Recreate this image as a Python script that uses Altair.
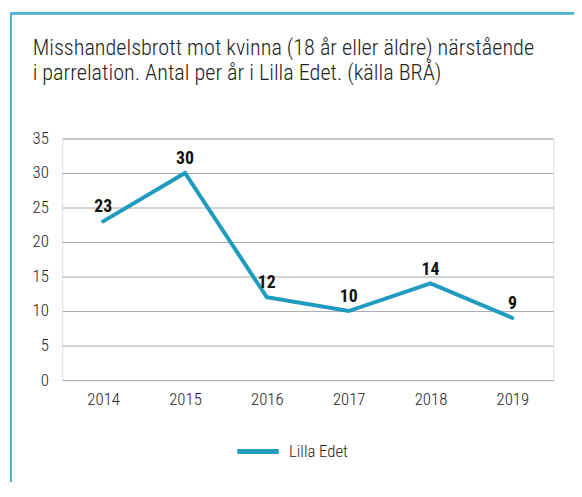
import altair as alt
import pandas as pd

years = ["2014", "2015", "2016", "2017", "2018", "2019"]
values = [23, 30, 12, 10, 14, 9]
series = ["Lilla Edet"] * 6
y_ticks = [0, 5, 10, 15, 20, 25, 30, 35]
title_lines = ["Misshandelsbrott mot kvinna (18 år eller äldre) närstående",
               "i parrelation. Antal per år i Lilla Edet. (källa BRÅ)"]

df = pd.DataFrame({"År": years, "Antal": values, "Serie": series})

FONT = "Roboto Condensed, Liberation Sans Narrow, Roboto, sans-serif"
LINE_COLOR = "#1f9bc0"
FRAME_COLOR = "#4db3d3"

x = alt.X("År:O", title=None,
          scale=alt.Scale(type="point", padding=0.5),
          axis=alt.Axis(labelAngle=0, ticks=False, domain=False, labelPadding=12,
                        labelFontSize=17, labelColor="#222", labelFont=FONT,
                        labelFontWeight=300))
y = alt.Y("Antal:Q", title=None,
          scale=alt.Scale(domain=[0, 35], nice=False),
          axis=alt.Axis(values=y_ticks, ticks=False, domain=False, labelPadding=14,
                        labelFontSize=17, labelColor="#222", labelFont=FONT,
                        labelFontWeight=300,
                        grid=True, gridColor="#a8a8a8", gridWidth=1))

base = alt.Chart(df)

line = base.mark_line(strokeWidth=4, strokeCap="round", strokeJoin="miter").encode(
    x=x, y=y,
    color=alt.Color("Serie:N", scale=alt.Scale(range=[LINE_COLOR]),
                    legend=alt.Legend(title=None, orient="none", legendX=175, legendY=294,
                                      symbolType="stroke", symbolStrokeWidth=5,
                                      symbolSize=1764, labelFontSize=17,
                                      labelFont=FONT, labelColor="#222",
                                      labelFontWeight=300, labelOffset=8))
)

labels = base.mark_text(baseline="bottom", dy=-5, fontSize=18, fontWeight="bold",
                        font=FONT, color="#111").encode(
    x=x, y=y, text=alt.Text("Antal:Q")
)

title = alt.Chart(pd.DataFrame({"t": [title_lines]})).mark_text(
    align="left", baseline="alphabetic", fontSize=22.5, font=FONT, color="#222",
    fontWeight=300, lineHeight=26
).encode(x=alt.value(-30), y=alt.value(-85), text="t")

frame_top = base.mark_rule(color=FRAME_COLOR, strokeWidth=2, clip=False).encode(
    x=alt.value(-52), x2=alt.value(600), y=alt.value(-127)
)
frame_left = base.mark_rule(color=FRAME_COLOR, strokeWidth=2, clip=False).encode(
    x=alt.value(-52), y=alt.value(-127), y2=alt.value(500)
)

chart = alt.layer(frame_top, frame_left, line, labels, title).properties(
    width=498, height=245,
    autosize=alt.AutoSizeParams(type="none"),
    padding={"left": 55, "top": 129, "right": 21, "bottom": 100},
).configure_view(stroke=None).configure(background="white")

chart.save("out.html", embed_options={"renderer": "svg", "actions": False})
